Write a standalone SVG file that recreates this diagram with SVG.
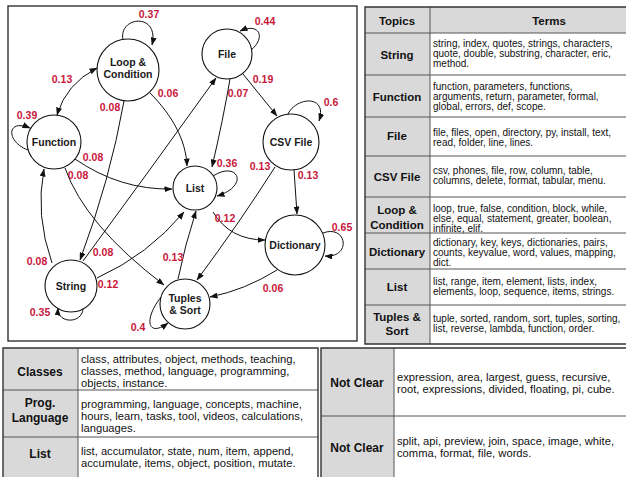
<svg xmlns="http://www.w3.org/2000/svg" width="626" height="477" viewBox="0 0 626 477">
  <style>
    .frame { fill: #ffffff; stroke: #222; stroke-width: 1.3; }
    .node circle { fill: #ffffff; stroke: #111; stroke-width: 1.1; }
    .node text { font-family: "Liberation Sans", Arial, sans-serif; font-weight: bold; font-size: 10.5px; fill: #1a1a1a; text-anchor: middle; }
    .edge { fill: none; stroke: #111; stroke-width: 1; marker-end: url(#arrow); }
    .both { marker-start: url(#arrowStart); }
    .w { font-family: "Liberation Sans", Arial, sans-serif; font-weight: bold; font-size: 10.5px; fill: #c8173a; text-anchor: middle; }
    .cellHead { fill: #d9d9d9; }
    .grid { stroke: #555; stroke-width: 1; fill: none; }
    .outer { stroke: #333; stroke-width: 1.4; fill: none; }
    .topic { font-family: "Liberation Sans", Arial, sans-serif; font-weight: bold; font-size: 11.5px; fill: #111; text-anchor: middle; }
    .terms { font-family: "Liberation Sans", Arial, sans-serif; font-size: 10px; fill: #111; }
    .topicL { font-family: "Liberation Sans", Arial, sans-serif; font-weight: bold; font-size: 12px; fill: #111; text-anchor: middle; }
    .termsL { font-family: "Liberation Sans", Arial, sans-serif; font-size: 11.2px; fill: #111; }
  </style>
  <defs>
    <marker id="arrow" viewBox="0 0 8 6" refX="7.5" refY="3" markerWidth="8" markerHeight="6" markerUnits="userSpaceOnUse" orient="auto">
      <path d="M0,0 L8,3 L0,6 z" fill="#111"/>
    </marker>
    <marker id="arrowStart" viewBox="0 0 8 6" refX="7.5" refY="3" markerWidth="8" markerHeight="6" markerUnits="userSpaceOnUse" orient="auto-start-reverse">
      <path d="M0,0 L8,3 L0,6 z" fill="#111"/>
    </marker>
  </defs>

  <rect width="626" height="477" fill="#ffffff"/>

  <!-- topic transition graph -->
  <rect class="frame" x="8" y="6" width="349" height="335"/>

  <g id="connectors">
    <path class="edge both" d="M57,115 Q66,84 97,68"/>
    <path class="edge" d="M123,40 C118,16 160,12 152,45"/>
    <path class="edge" d="M28,150 C6,142 6,118 30,128"/>
    <path class="edge" d="M124,101 Q110,180 80,260"/>
    <path class="edge" d="M150,93 C172,115 186,140 187,166"/>
    <path class="edge" d="M230,79 Q223,120 212,167"/>
    <path class="edge" d="M83,261 Q150,170 216,78"/>
    <path class="edge" d="M97,278 Q148,255 184,212"/>
    <path class="edge" d="M52,263 Q35,215 44,169"/>
    <path class="edge" d="M65,168 Q85,225 164,285"/>
    <path class="edge" d="M75,159 Q120,190 172,189"/>
    <path class="edge" d="M213,176 C238,160 250,186 217,196"/>
    <path class="edge" d="M213,212 Q230,240 265,240"/>
    <path class="edge" d="M243,74 L277,116"/>
    <path class="edge" d="M251,50 C266,38 260,22 240,31"/>
    <path class="edge" d="M288,114 C296,97 328,94 319,121"/>
    <path class="edge" d="M294,170 L297,214"/>
    <path class="edge" d="M275,167 Q240,222 197,280"/>
    <path class="edge" d="M323,233 C347,224 352,258 325,256"/>
    <path class="edge" d="M277,270 Q245,290 210,297"/>
    <path class="edge" d="M178,279 Q185,245 196,211"/>
    <path class="edge" d="M161,297 C143,320 148,338 168,323"/>
    <path class="edge" d="M83,309 C82,324 57,324 58,308"/>

    <text class="w" x="149" y="18">0.37</text>
    <text class="w" x="62" y="83">0.13</text>
    <text class="w" x="27" y="119">0.39</text>
    <text class="w" x="110" y="111">0.08</text>
    <text class="w" x="168" y="97">0.06</text>
    <text class="w" x="93" y="161">0.08</text>
    <text class="w" x="265" y="25">0.44</text>
    <text class="w" x="263" y="83">0.19</text>
    <text class="w" x="238" y="97">0.07</text>
    <text class="w" x="331" y="106">0.6</text>
    <text class="w" x="227" y="167">0.36</text>
    <text class="w" x="260" y="170">0.13</text>
    <text class="w" x="308" y="179">0.13</text>
    <text class="w" x="78" y="179">0.08</text>
    <text class="w" x="103" y="256">0.08</text>
    <text class="w" x="37" y="265">0.08</text>
    <text class="w" x="108" y="288">0.12</text>
    <text class="w" x="40" y="316">0.35</text>
    <text class="w" x="138" y="331">0.4</text>
    <text class="w" x="173" y="261">0.13</text>
    <text class="w" x="225" y="222">0.12</text>
    <text class="w" x="342" y="231">0.65</text>
    <text class="w" x="273" y="292">0.06</text>
  </g>

  <g id="node-loop" class="node">
    <circle cx="128" cy="70" r="31"/>
    <text x="128" y="66">Loop &amp;</text>
    <text x="128" y="78">Condition</text>
  </g>
  <g id="node-file" class="node">
    <circle cx="227" cy="54" r="25"/>
    <text x="227" y="58">File</text>
  </g>
  <g id="node-function" class="node">
    <circle cx="54" cy="142" r="27"/>
    <text x="54" y="146">Function</text>
  </g>
  <g id="node-csv" class="node">
    <circle cx="291" cy="142" r="28"/>
    <text x="291" y="146">CSV File</text>
  </g>
  <g id="node-list" class="node">
    <circle cx="195" cy="188" r="22"/>
    <text x="195" y="192">List</text>
  </g>
  <g id="node-dictionary" class="node">
    <circle cx="295" cy="245" r="30"/>
    <text x="295" y="249">Dictionary</text>
  </g>
  <g id="node-string" class="node">
    <circle cx="71" cy="286" r="26"/>
    <text x="71" y="290">String</text>
  </g>
  <g id="node-tuples" class="node">
    <circle cx="185" cy="304" r="25"/>
    <text x="185" y="302">Tuples</text>
    <text x="185" y="314">&amp; Sort</text>
  </g>

  <!-- topic / terms table -->
  <g id="table-topics">
    <rect class="cellHead" x="365" y="7" width="262" height="26"/>
    <rect class="cellHead" x="365" y="33" width="65" height="311"/>
    <path class="grid" d="M430,7 V344 M365,33 H627 M365,75 H627 M365,117 H627 M365,156 H627 M365,197 H627 M365,233 H627 M365,269 H627 M365,305 H627"/>
    <path class="outer" d="M627,7 H365 V344 H627"/>

    <text class="topic" x="397" y="25">Topics</text>
    <text class="topic" x="549" y="25">Terms</text>

    <text class="topic" x="397" y="59">String</text>
    <text class="terms" x="433" y="47">string, index, quotes, strings, characters,</text>
    <text class="terms" x="433" y="57">quote, double, substring, character, eric,</text>
    <text class="terms" x="433" y="67">method.</text>

    <text class="topic" x="397" y="101">Function</text>
    <text class="terms" x="433" y="90">function, parameters, functions,</text>
    <text class="terms" x="433" y="100">arguments, return, parameter, formal,</text>
    <text class="terms" x="433" y="110">global, errors, def, scope.</text>

    <text class="topic" x="397" y="140">File</text>
    <text class="terms" x="433" y="136">file, files, open, directory, py, install, text,</text>
    <text class="terms" x="433" y="146">read, folder, line, lines.</text>

    <text class="topic" x="397" y="181">CSV File</text>
    <text class="terms" x="433" y="174">csv, phones, file, row, column, table,</text>
    <text class="terms" x="433" y="184">columns, delete, format, tabular, menu.</text>

    <text class="topic" x="397" y="214">Loop &amp;</text>
    <text class="topic" x="397" y="229">Condition</text>
    <text class="terms" x="433" y="212">loop, true, false, condition, block, while,</text>
    <text class="terms" x="433" y="222">else, equal, statement, greater, boolean,</text>
    <text class="terms" x="433" y="232">infinite, elif.</text>

    <text class="topic" x="397" y="256">Dictionary</text>
    <text class="terms" x="433" y="246">dictionary, key, keys, dictionaries, pairs,</text>
    <text class="terms" x="433" y="256">counts, keyvalue, word, values, mapping,</text>
    <text class="terms" x="433" y="266">dict.</text>

    <text class="topic" x="397" y="291">List</text>
    <text class="terms" x="433" y="285">list, range, item, element, lists, index,</text>
    <text class="terms" x="433" y="295">elements, loop, sequence, items, strings.</text>

    <text class="topic" x="397" y="321">Tuples &amp;</text>
    <text class="topic" x="397" y="335">Sort</text>
    <text class="terms" x="433" y="322">tuple, sorted, random, sort, tuples, sorting,</text>
    <text class="terms" x="433" y="332">list, reverse, lambda, function, order.</text>
  </g>

  <!-- lower left table -->
  <g id="table-left">
    <rect class="cellHead" x="3" y="348" width="75" height="132"/>
    <path class="grid" d="M78,348 V480 M3,390 H318 M3,437 H318"/>
    <path class="outer" d="M3,480 V348 H318 V480"/>

    <text class="topicL" x="40" y="376">Classes</text>
    <text class="termsL" x="81" y="363">class, attributes, object, methods, teaching,</text>
    <text class="termsL" x="81" y="375">classes, method, language, programming,</text>
    <text class="termsL" x="81" y="387">objects, instance.</text>

    <text class="topicL" x="40" y="407">Prog.</text>
    <text class="topicL" x="40" y="422">Language</text>
    <text class="termsL" x="81" y="408">programming, language, concepts, machine,</text>
    <text class="termsL" x="81" y="420">hours, learn, tasks, tool, videos, calculations,</text>
    <text class="termsL" x="81" y="432">languages.</text>

    <text class="topicL" x="40" y="458">List</text>
    <text class="termsL" x="81" y="455">list, accumulator, state, num, item, append,</text>
    <text class="termsL" x="81" y="467">accumulate, items, object, position, mutate.</text>
  </g>

  <!-- lower right table -->
  <g id="table-right">
    <rect class="cellHead" x="321" y="348" width="73" height="132"/>
    <path class="grid" d="M394,348 V480 M321,416 H627"/>
    <path class="outer" d="M321,480 V348 H627"/>

    <text class="topicL" x="357" y="387">Not Clear</text>
    <text class="termsL" x="397" y="381">expression, area, largest, guess, recursive,</text>
    <text class="termsL" x="397" y="393">root, expressions, divided, floating, pi, cube.</text>

    <text class="topicL" x="357" y="452">Not Clear</text>
    <text class="termsL" x="397" y="445">split, api, preview, join, space, image, white,</text>
    <text class="termsL" x="397" y="457">comma, format, file, words.</text>
  </g>
</svg>
